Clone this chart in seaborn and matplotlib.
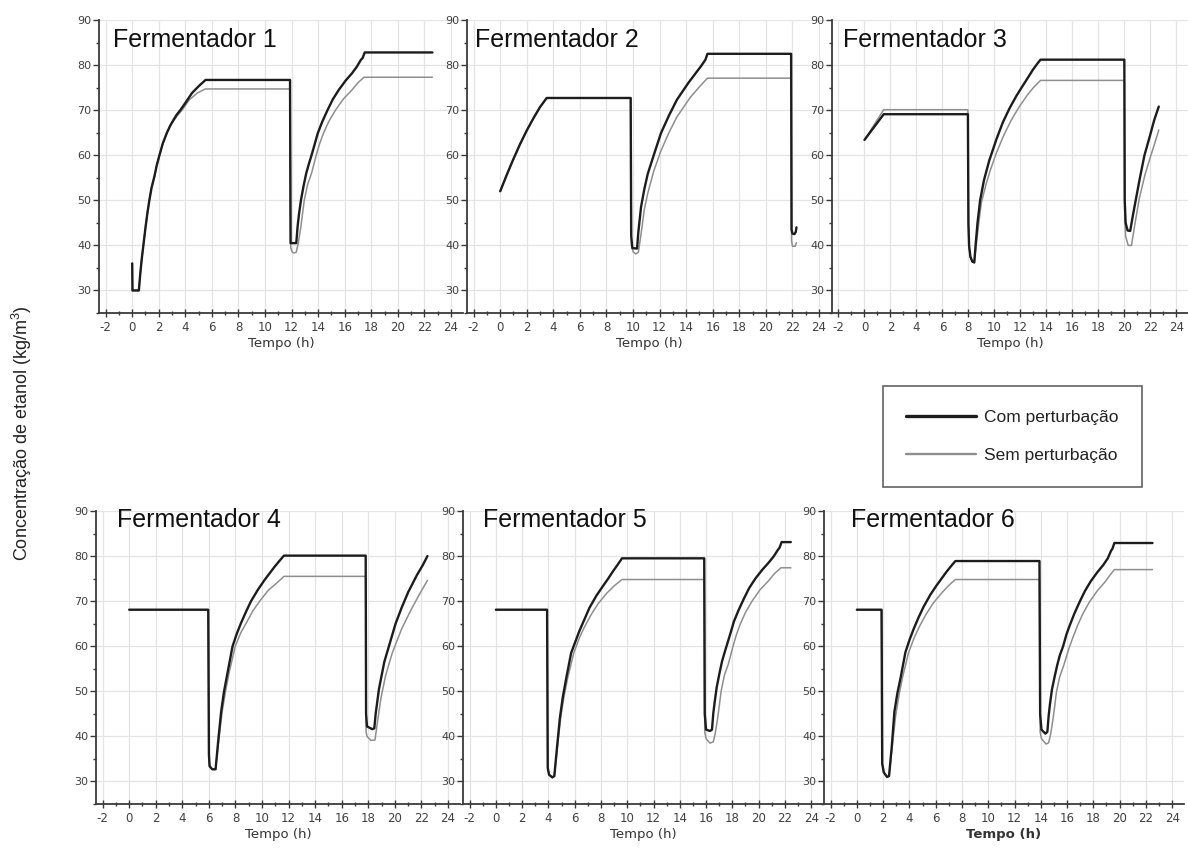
import matplotlib
matplotlib.use("Agg")
import matplotlib.pyplot as plt
import pandas as pd
import seaborn as sns
from matplotlib.lines import Line2D
from matplotlib.ticker import MultipleLocator

sns.set_theme(style="white")
plt.rcParams["font.family"] = ["DejaVu Sans"]
plt.rcParams["axes.unicode_minus"] = False
plt.rcParams["mathtext.fontset"] = "custom"
plt.rcParams["mathtext.rm"] = "Liberation Sans"
plt.rcParams["mathtext.it"] = "Liberation Sans:italic"

# ---------------------------------------------------------------- data
TITLES = ["Fermentador 1", "Fermentador 2", "Fermentador 3",
          "Fermentador 4", "Fermentador 5", "Fermentador 6"]
SERIES_COM = "Com perturbação"
SERIES_SEM = "Sem perturbação"
X_TICKS = list(range(-2, 25, 2))
Y_TICKS = [30, 40, 50, 60, 70, 80, 90]

# Fermentador 1
F1_T_COM = [0, 0.02, 0.5, 0.6, 0.71, 0.84, 1.01, 1.15, 1.29, 1.45, 1.67, 1.85,
            2.05, 2.3, 2.6, 2.85, 3.1, 3.35, 3.62, 4.0, 4.5, 5.0, 5.52,
            11.88, 11.92, 12.35, 12.45, 12.55, 12.7, 12.9, 13.1, 13.3, 13.5,
            13.75, 13.97, 14.3, 14.7, 15.1, 15.55, 16.05, 16.55, 16.9, 17.2,
            17.35, 17.5, 22.6]
F1_COM = [36, 30, 30, 33.5, 36.8, 40, 44.2, 47.3, 50, 52.7, 55.3, 57.8,
          60, 62.6, 64.9, 66.5, 67.8, 69, 70, 71.6, 73.8, 75.3, 76.7,
          76.7, 40.5, 40.5, 44.2, 46.8, 50, 53.2, 56, 58.1, 60,
          62.6, 64.9, 67.4, 70, 72.4, 74.5, 76.5, 78.2, 79.6, 81.1,
          81.6, 82.8, 82.8]
F1_T_SEM = [0, 0.02, 0.5, 0.6, 0.71, 0.84, 1.01, 1.15, 1.29, 1.45, 1.67, 1.85,
            2.05, 2.3, 2.6, 2.85, 3.1, 3.35, 3.75, 4.3, 4.9, 5.5,
            11.88, 11.93, 12.05, 12.2, 12.35, 12.5, 12.7, 12.95, 13.2, 13.5,
            13.85, 14.1, 14.4, 14.8, 15.3, 15.9, 16.55, 17.0, 17.45, 22.6]
F1_SEM = [36, 30, 30, 33.5, 36.8, 40, 44.2, 47.3, 50, 52.7, 55.3, 57.8,
          60, 62.6, 64.9, 66.4, 67.6, 68.6, 70, 72.3, 73.8, 74.7,
          74.7, 39.5, 38.5, 38.3, 38.5, 40.5, 44.2, 50, 53.5, 56,
          60, 62.5, 64.9, 67.5, 70, 72.5, 74.5, 76.1, 77.3, 77.3]

# Fermentador 2
F2_T_COM = [0, 0.5, 1, 1.5, 2, 2.5, 3, 3.5, 9.82, 9.86, 9.95, 10.3, 10.4, 10.6,
            10.85, 11.1, 11.5, 12.1, 12.7, 13.3, 14.15, 15.1, 15.45, 15.6,
            21.9, 21.93, 22.0, 22.15, 22.25, 22.3]
F2_COM = [52, 55.7, 59.2, 62.5, 65.5, 68.2, 70.7, 72.7, 72.7, 42, 39.4, 39.3,
          43, 48.5, 52.5, 55.8, 59.5, 64.9, 68.8, 72.3, 76, 79.7, 81.2, 82.5,
          82.5, 43.5, 42.6, 42.5, 43, 44]
F2_T_SEM = [0, 0.5, 1, 1.5, 2, 2.5, 3, 3.5, 9.82, 9.88, 10.0, 10.2, 10.4, 10.6,
            10.85, 11.1, 11.56, 12.1, 12.7, 13.3, 14.3, 15.0, 15.6, 21.9,
            21.93, 22.0, 22.2, 22.3]
F2_SEM = [52, 55.7, 59.2, 62.5, 65.5, 68.2, 70.7, 72.7, 72.7, 40, 38.6, 38.1,
          38.5, 42.5, 48, 51.5, 56.5, 61, 65, 68.5, 72.8, 75.2, 77.1, 77.1,
          41, 39.8, 39.8, 40.6]

# Fermentador 3
F3_T_COM = [0, 1.48, 7.96, 8.0, 8.05, 8.15, 8.3, 8.45, 8.55, 8.7, 8.9, 9.2, 9.6,
            10.15, 10.65, 11.18, 11.7, 12.2, 12.6, 12.97, 13.3, 13.55,
            20.0, 20.03, 20.1, 20.25, 20.45, 20.65, 20.9, 21.2, 21.55, 21.98,
            22.3, 22.65]
F3_COM = [63.4, 69.1, 69.1, 45, 40, 37.5, 36.4, 36.2, 40, 45, 50, 54.5, 58.8,
          63.5, 67.3, 70.5, 73.2, 75.5, 77.3, 79, 80.3, 81.2,
          81.2, 50, 45, 43.3, 43.2, 46.5, 50.4, 55, 60, 64.4,
          67.8, 70.8]
F3_T_SEM = [0, 1.48, 7.96, 8.0, 8.05, 8.15, 8.3, 8.45, 8.6, 8.8, 9.0, 9.35, 9.7,
            10.15, 10.7, 11.3, 11.9, 12.5, 13.0, 13.55,
            20.0, 20.03, 20.1, 20.3, 20.55, 20.8, 21.15, 21.6, 22.05, 22.4,
            22.65]
F3_SEM = [63.4, 70.1, 70.1, 44, 39.5, 37.3, 36.5, 36.3, 40, 45, 49.5, 53.5, 56.8,
          60.5, 64.3, 67.8, 70.7, 73.2, 75, 76.6,
          76.6, 46, 42, 40, 40, 44.5, 50.4, 55.8, 60, 63.2,
          65.6]

# Fermentador 4
F4_T_COM = [0, 5.95, 6.0, 6.05, 6.25, 6.5, 6.71, 6.92, 7.14, 7.4, 7.78, 8.1,
            8.41, 8.8, 9.17, 9.7, 10.19, 10.6, 10.96, 11.3, 11.65,
            17.8, 17.83, 17.9, 18.3, 18.45, 18.55, 18.8, 19.2, 19.6, 20.05,
            20.5, 21.0, 21.66, 22.1, 22.45]
F4_COM = [68.1, 68.1, 36, 33.4, 32.7, 32.7, 39.3, 45.5, 50, 54.1, 60, 62.8,
          65.1, 67.7, 70, 72.6, 74.7, 76.3, 77.7, 78.9, 80.1,
          80.1, 45, 42.2, 41.6, 41.8, 45, 50.5, 56.5, 60.5, 65,
          68.5, 72, 75.8, 78, 80]
F4_T_SEM = [0, 5.95, 6.0, 6.05, 6.25, 6.5, 6.75, 7.0, 7.25, 7.52, 7.98, 8.4,
            8.8, 9.3, 9.82, 10.5, 11.1, 11.65,
            17.8, 17.83, 17.9, 18.2, 18.5, 18.7, 18.95, 19.3, 19.8, 20.5,
            21.2, 21.9, 22.45]
F4_SEM = [68.1, 68.1, 36, 33.4, 32.7, 32.7, 39.5, 45.5, 50, 54.1, 60, 63,
          65.1, 67.8, 70, 72.5, 74, 75.5,
          75.5, 41, 40, 39.1, 39.2, 43.5, 48.5, 53.5, 58.5, 63.8,
          68, 71.8, 74.6]

# Fermentador 5
F5_T_COM = [0, 3.9, 3.95, 4.05, 4.3, 4.45, 4.66, 4.87, 5.09, 5.35, 5.73, 6.05,
            6.36, 6.75, 7.12, 7.65, 8.14, 8.55, 8.91, 9.25, 9.6,
            15.86, 15.9, 16.0, 16.3, 16.45, 16.55, 16.66, 16.81, 17.02, 17.22,
            17.43, 17.63, 17.89, 18.12, 18.46, 18.87, 19.28, 19.75, 20.26,
            20.78, 21.14, 21.45, 21.6, 21.75, 22.45]
F5_COM = [68.1, 68.1, 33, 31.5, 30.9, 31.2, 37.7, 44, 48.6, 52.8, 58.5, 61,
          63.4, 66, 68.5, 71.2, 73.3, 75, 76.6, 78, 79.5,
          79.5, 45, 41.5, 41.2, 41.5, 45.1, 47.7, 50.9, 54, 56.7,
          58.8, 60.7, 63.2, 65.5, 67.9, 70.5, 72.9, 75, 76.9,
          78.6, 79.9, 81.3, 81.9, 83.1, 83.1]
F5_T_SEM = [0, 3.9, 3.95, 4.05, 4.3, 4.45, 4.7, 4.95, 5.2, 5.47, 5.93, 6.35,
            6.75, 7.25, 7.8, 8.45, 9.05, 9.6,
            15.86, 15.9, 16.0, 16.3, 16.55, 16.7, 16.9, 17.15, 17.4, 17.7,
            18.05, 18.3, 18.6, 19.0, 19.5, 20.1, 20.75, 21.2, 21.7, 22.45]
F5_SEM = [68.1, 68.1, 33, 31.5, 30.9, 31.2, 38, 44.5, 49, 53, 58.5, 61.8,
          64.3, 67, 69.5, 71.8, 73.5, 74.8,
          74.8, 41, 39.5, 38.5, 38.8, 40.7, 44.4, 50.1, 53.6, 56.1,
          60, 62.5, 64.9, 67.5, 70, 72.5, 74.5, 76.1, 77.4, 77.4]

# Fermentador 6
F6_T_COM = [0, 1.88, 1.93, 2.05, 2.3, 2.45, 2.66, 2.86, 3.08, 3.33, 3.7, 4.02,
            4.32, 4.7, 5.07, 5.59, 6.07, 6.47, 6.82, 7.15, 7.5,
            13.9, 13.95, 14.05, 14.35, 14.5, 14.6, 14.7, 14.85, 15.05, 15.25,
            15.45, 15.7, 15.95, 16.2, 16.55, 16.95, 17.35, 17.8, 18.3, 18.75,
            19.1, 19.35, 19.45, 19.6, 22.5]
F6_COM = [68.1, 68.1, 34, 32, 31, 31.2, 37.8, 45.5, 49.5, 53, 58.7, 61.5,
          63.8, 66.4, 68.7, 71.4, 73.5, 75.1, 76.5, 77.7, 78.9,
          78.9, 45, 41.5, 40.6, 41, 44.6, 47.2, 50.4, 53.2, 55.8,
          58, 60, 62.6, 64.6, 67.2, 69.8, 72.2, 74.4, 76.4, 78,
          79.5, 81.2, 81.6, 82.9, 82.9]
F6_T_SEM = [0, 1.88, 1.93, 2.05, 2.3, 2.45, 2.7, 2.95, 3.2, 3.47, 3.93, 4.35,
            4.75, 5.25, 5.8, 6.45, 7.0, 7.5,
            13.9, 13.95, 14.05, 14.4, 14.6, 14.75, 14.95, 15.2, 15.45, 15.75,
            16.15, 16.45, 16.8, 17.2, 17.7, 18.3, 18.9, 19.3, 19.6, 22.5]
F6_SEM = [68.1, 68.1, 34, 32, 31, 31.2, 38, 44.5, 49, 53, 58.5, 61.8,
          64.3, 67, 69.5, 71.8, 73.5, 74.8,
          74.8, 41, 39.5, 38.3, 38.6, 40.5, 44.2, 50, 53.3, 55.8,
          59.6, 62, 64.6, 67.2, 69.8, 72.3, 74.3, 75.9, 77, 77]

PANEL_DATA = [
    (F1_T_COM, F1_COM, F1_T_SEM, F1_SEM),
    (F2_T_COM, F2_COM, F2_T_SEM, F2_SEM),
    (F3_T_COM, F3_COM, F3_T_SEM, F3_SEM),
    (F4_T_COM, F4_COM, F4_T_SEM, F4_SEM),
    (F5_T_COM, F5_COM, F5_T_SEM, F5_SEM),
    (F6_T_COM, F6_COM, F6_T_SEM, F6_SEM),
]

# ---------------------------------------------------------------- style
PALETTE = {SERIES_COM: "#1c1c1c", SERIES_SEM: "#8e8e8e"}
WIDTHS = {SERIES_COM: 1.7, SERIES_SEM: 1.1}
W, H = 1188, 849

# axes placement in pixels: (left, top, width) of each panel
AX_LTW = [(99, 20, 364), (467, 20, 364), (832, 20, 356),
          (96, 511, 364), (463, 511, 360), (824, 511, 360)]
AX_H = 293
TITLE_OFF = [(14, 27), (8, 27), (11, 27), (21, 16), (20, 16), (27, 16)]

fig = plt.figure(figsize=(W / 100, H / 100), dpi=100)

for i, (title, (tc, yc, ts, ys)) in enumerate(zip(TITLES, PANEL_DATA)):
    left, top, width = AX_LTW[i]
    ax = fig.add_axes([left / W, 1 - (top + AX_H) / H, width / W, AX_H / H])
    ax.patch.set_alpha(0)

    df = pd.concat([
        pd.DataFrame({"Tempo": ts, "Conc": ys, "Série": SERIES_SEM}),
        pd.DataFrame({"Tempo": tc, "Conc": yc, "Série": SERIES_COM}),
    ], ignore_index=True)

    sns.lineplot(data=df, x="Tempo", y="Conc", hue="Série",
                 hue_order=[SERIES_SEM, SERIES_COM], palette=PALETTE,
                 size="Série", size_order=[SERIES_SEM, SERIES_COM], sizes=WIDTHS,
                 sort=False, estimator=None, legend=False, ax=ax)
    for ln in ax.get_lines():
        ln.set_solid_joinstyle("round")

    ax.set_xlim(-2.5, 24.9)
    ax.set_ylim(25, 90)
    ax.set_xticks(X_TICKS)
    ax.set_yticks(Y_TICKS)
    ax.xaxis.set_minor_locator(MultipleLocator(1))
    ax.yaxis.set_minor_locator(MultipleLocator(5))
    ax.grid(True, which="major", color="#e4e4e4", linewidth=0.9)
    ax.set_axisbelow(True)

    for side in ("top", "right"):
        ax.spines[side].set_visible(False)
    for side in ("left", "bottom"):
        ax.spines[side].set_color("#3a3a3a")
        ax.spines[side].set_linewidth(1.3)

    ax.tick_params(axis="both", which="both", bottom=True, left=True,
                   color="#3a3a3a", width=1.0)
    ax.tick_params(axis="x", which="major", direction="inout", length=6,
                   labelsize=8.5, labelcolor="#404040", pad=3)
    ax.tick_params(axis="x", which="minor", direction="inout", length=3)
    ax.tick_params(axis="y", which="major", direction="out", length=4,
                   labelsize=8, labelcolor="#404040", pad=1.5)
    ax.tick_params(axis="y", which="minor", direction="out", length=2.5)

    ax.set_ylabel("")
    ax.set_xlabel("Tempo (h)", fontsize=9.5, color="#333333", labelpad=2,
                  fontweight="bold" if i == 5 else "normal")

    dx, dy = TITLE_OFF[i]
    ax.annotate(title, xy=(0, 1), xycoords="axes fraction",
                xytext=(dx, -dy), textcoords="offset pixels",
                ha="left", va="baseline", fontsize=18,
                family="Liberation Sans", color="#111111")

fig.text(22 / W, 1 - 433 / H, "Concentração de etanol (kg/m$^3$)",
         rotation=90, ha="center", va="center", fontsize=13,
         family="Liberation Sans", color="#222222")

handles = [Line2D([], [], color=PALETTE[SERIES_COM], lw=2.4),
           Line2D([], [], color=PALETTE[SERIES_SEM], lw=1.7)]
leg = fig.legend(handles, [SERIES_COM, SERIES_SEM], loc="upper left",
                 bbox_to_anchor=(883 / W, 1 - 386 / H), borderaxespad=0,
                 frameon=True, fancybox=False, shadow=False,
                 handlelength=4.0, handletextpad=0.45, labelspacing=1.35,
                 borderpad=1.35, prop={"family": "Liberation Sans", "size": 12.5})
leg.get_frame().set_edgecolor("#3a3a3a")
leg.get_frame().set_linewidth(1.2)
for txt in leg.get_texts():
    txt.set_color("#222222")

fig.savefig("out.png", dpi=100)
